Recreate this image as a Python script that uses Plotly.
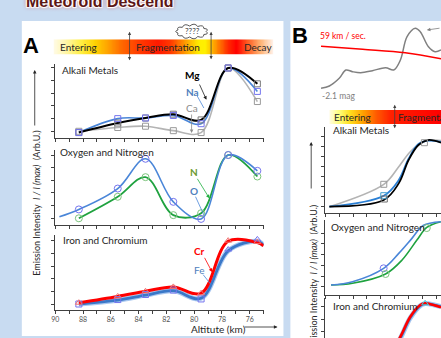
import numpy as np
import plotly.graph_objects as go

W, H = 441, 338
def X(px): return px / W
def Y(py): return 1 - py / H

# ---------------- data (panel A) ----------------
alt_ticks = [90, 88, 86, 84, 82, 80, 78, 76]
alt_A = [88.3, 85.5, 83.5, 81.5, 79.5, 77.55, 75.45]

mg = [-0.02, 0.13, 0.21, 0.27, 0.18, 1.00, 0.75]
na = [-0.02, 0.20, 0.21, 0.25, 0.12, 1.00, 0.63]
ca = [0.00, 0.06, 0.08, 0.01, -0.02, 1.00, 0.47]

o_vals = [0.14, 0.47, 0.94, 0.26, -0.01, 1.00, 0.75]
n_vals = [0.00, 0.34, 0.65, 0.05, 0.08, 1.00, 0.66]
o_line_alt = [89.7] + alt_A
o_line = [0.025] + o_vals

cr = [0.02, 0.12, 0.20, 0.27, 0.17, 1.00, 0.98]
fe = [0.00, 0.07, 0.15, 0.22, 0.08, 0.86, 1.02]
fe_sym = ['square-open'] * 5 + ['triangle-up-open'] * 2
curve_alt = alt_A + [75.0]
cr_curve = [0.02, 0.12, 0.20, 0.27, 0.17, 0.99, 0.97, 0.92]
fe_curve = [0.00, 0.06, 0.14, 0.21, 0.09, 0.84, 0.99, 0.93]

# ---------------- data (panel B) ----------------
mag_alt = [90.31, 89.71, 89.0, 88.52, 88.04, 87.45, 86.61, 85.66, 85.07, 84.59,
           84.11, 83.52, 83.16, 82.57, 82.09, 81.66]
mag = [-2.1, -2.215, -2.6, -3.015, -2.93, -2.88, -2.98, -3.13, -3.015, -3.515,
       -4.68, -5.1, -4.93, -4.18, -3.93, -4.015]
vel_alt = [90.31, 87.31, 84.24, 81.66]
vel = [59.0, 58.0, 56.87, 54.83]

ca_B_alt = [89.71, 85.79, 84.71, 83.88, 82.93, 82.09, 81.66]
ca_B = [0.0, 0.336, 0.6, 0.825, 0.975, 1.0, 0.99]
mg_B_alt = [89.71, 85.79, 84.71, 84.0, 83.29, 82.59, 81.66]
mg_B = [0.0, 0.10, 0.35, 0.70, 0.925, 1.0, 0.96]
na_B = [0.0, 0.165, 0.40, 0.72, 0.94, 0.99, 0.97]

o_B_alt = [89.59, 88.04, 85.8, 84.71, 83.76, 82.95, 81.68]
o_B = [0.0, 0.053, 0.264, 0.5, 0.737, 0.94, 1.0]
n_B_alt = [89.59, 88.04, 85.66, 84.47, 83.4, 82.69, 81.68]
n_B = [0.0, 0.027, 0.174, 0.395, 0.71, 0.91, 1.0]

cr_B_alt = [85.2, 84.59, 83.88, 83.16, 82.81, 82.21, 81.66]
cr_B = [0.25, 0.472, 0.788, 0.973, 1.0, 0.973, 0.937]
fe_B = [0.23, 0.45, 0.77, 0.962, 0.995, 0.978, 0.947]

# gradient bars (colour stops)
barA_stops = [(0.0, '#fffbe6'), (0.054, '#fff6a8'), (0.126, '#ffee40'), (0.19, '#ffd000'),
              (0.248, '#ffa000'), (0.307, '#ff6a00'), (0.383, '#ff3c00'), (0.474, '#ff1a00'),
              (0.532, '#ff3a00'), (0.595, '#ff9a00'), (0.659, '#ffee00'), (0.69, '#fff000'),
              (0.731, '#ffa000'), (0.789, '#ff3000'), (0.83, '#ff0000'), (0.88, '#ff5a20'),
              (0.938, '#ffb070'), (1.0, '#fff4ee')]
barB_stops = [(0.0, '#fffce0'), (0.08, '#ffff80'), (0.18, '#ffe020'), (0.3, '#ffa000'),
              (0.42, '#ff5a00'), (0.55, '#ff2000'), (1.0, '#ff0000')]

BLUE = '#4a86d8'
MBLUE = '#7474ee'
GRAY = '#b4b4b4'
GREEN = '#1fa23f'
RED = '#ff0000'

fig = go.Figure()

def line(x, y, xa, ya, color, width, name):
    fig.add_trace(go.Scatter(x=x, y=y, mode='lines', xaxis=xa, yaxis=ya, name=name,
                             line=dict(color=color, width=width, shape='spline', smoothing=1.0),
                             showlegend=False, hoverinfo='skip'))

def marks(x, y, xa, ya, color, symbol, name, size=6):
    fig.add_trace(go.Scatter(x=x, y=y, mode='markers', xaxis=xa, yaxis=ya, name=name,
                             marker=dict(symbol=symbol, size=size, color=color, line=dict(color=color, width=1)),
                             showlegend=False, hoverinfo='skip'))

# Panel A - Alkali
line(alt_A, ca, 'x', 'y', GRAY, 1.6, 'Ca')
line(alt_A, na, 'x', 'y', BLUE, 1.6, 'Na')
line(alt_A, mg, 'x', 'y', '#000000', 2.0, 'Mg')
marks(alt_A, ca, 'x', 'y', '#9a9a9a', 'square-open', 'Ca')
marks(alt_A, mg, 'x', 'y', '#7a7a7a', 'square-open', 'Mg')
marks(alt_A, na, 'x', 'y', MBLUE, 'square-open', 'Na')

# Panel A - O/N
line(alt_A, n_vals, 'x2', 'y2', GREEN, 1.8, 'N')
line(o_line_alt, o_line, 'x2', 'y2', BLUE, 1.6, 'O')
marks(alt_A, n_vals, 'x2', 'y2', '#7cc47c', 'circle-open', 'N', 7)
marks(alt_A, o_vals, 'x2', 'y2', MBLUE, 'circle-open', 'O', 7)

# Panel A - Fe/Cr
line(curve_alt, fe_curve, 'x3', 'y3', '#aac8f0', 5.0, 'Fe halo')
line(curve_alt, fe_curve, 'x3', 'y3', '#3a78c8', 2.8, 'Fe')
line(curve_alt, cr_curve, 'x3', 'y3', RED, 3.0, 'Cr')
marks(alt_A, fe, 'x3', 'y3', MBLUE, fe_sym, 'Fe')
marks(alt_A, cr, 'x3', 'y3', '#f07070', 'triangle-up-open', 'Cr')

# Panel B - top (magnitude / velocity)
line(mag_alt, mag, 'x7', 'y7', '#808080', 1.5, 'mag')
line(vel_alt, vel, 'x7', 'y8', RED, 1.5, 'velocity')

# Panel B - Alkali
line(ca_B_alt, ca_B, 'x4', 'y4', GRAY, 1.6, 'Ca')
line(mg_B_alt, na_B, 'x4', 'y4', '#2a7fd4', 1.8, 'Na')
line(mg_B_alt, mg_B, 'x4', 'y4', '#000000', 1.8, 'Mg')
marks([85.79, 82.86], [0.336, 0.96], 'x4', 'y4', '#9a9a9a', 'square-open', 'Ca')
marks([85.79], [0.165], 'x4', 'y4', '#40a0d0', 'square-open', 'Na')
marks([85.75], [0.115], 'x4', 'y4', '#707070', 'square-open', 'Mg')

# Panel B - O/N
line(n_B_alt, n_B, 'x5', 'y5', GREEN, 1.6, 'N')
line(o_B_alt, o_B, 'x5', 'y5', BLUE, 1.6, 'O')
marks([85.8], [0.264], 'x5', 'y5', MBLUE, 'circle-open', 'O', 7)
marks([85.66, 82.69], [0.174, 0.9], 'x5', 'y5', '#7cc47c', 'circle-open', 'N', 7)

# Panel B - Fe/Cr
line(cr_B_alt, fe_B, 'x6', 'y6', '#aac8f0', 5.0, 'Fe halo')
line(cr_B_alt, fe_B, 'x6', 'y6', '#3a78c8', 2.6, 'Fe')
line(cr_B_alt, cr_B, 'x6', 'y6', RED, 2.6, 'Cr')
marks([82.81], [1.0], 'x6', 'y6', '#40c8d8', 'triangle-up-open', 'Fe')

# Gradient bars
gA = np.linspace(0, 1, 160)
fig.add_trace(go.Heatmap(x=gA, y=[0], z=[gA], colorscale=[[p, c] for p, c in barA_stops],
                         zmin=0, zmax=1, showscale=False, xaxis='x9', yaxis='y9', hoverinfo='skip', zsmooth='best'))
fig.add_trace(go.Heatmap(x=gA, y=[0], z=[gA], colorscale=[[p, c] for p, c in barB_stops],
                         zmin=0, zmax=1, showscale=False, xaxis='x10', yaxis='y10', hoverinfo='skip', zsmooth='best'))

# ---------------- axes ----------------
AX = '#404040'
def axc(**kw):
    d = dict(showgrid=False, zeroline=False, showline=True, linecolor=AX, linewidth=1,
             ticks='outside', ticklen=3, tickwidth=1, tickcolor=AX, showticklabels=False,
             fixedrange=True)
    d.update(kw)
    return d

xA = [X(51.7), X(262)]
xB = [X(324.3), 1.0]
rB = [90, 90 - (441 - 324.3) / 14]
ticksA = list(range(75, 91))
ticklabA = [str(t) if t in alt_ticks else '' for t in ticksA]
yt = [0, 0.2, 0.4, 0.6, 0.8, 1.0]

layout = dict(
    width=W, height=H, margin=dict(l=0, r=0, t=0, b=0),
    paper_bgcolor='#c8dbf1', plot_bgcolor='rgba(0,0,0,0)', showlegend=False,
    font=dict(family='Lato', color='#262626'),
    xaxis=axc(domain=xA, range=[90, 75], tickmode='array', tickvals=ticksA, anchor='y'),
    yaxis=axc(domain=[Y(138), Y(64)], range=[-0.106, 1.063], tickmode='array', tickvals=yt, anchor='x'),
    xaxis2=axc(domain=xA, range=[90, 75], tickmode='array', tickvals=ticksA, anchor='y2'),
    yaxis2=axc(domain=[Y(225), Y(150)], range=[-0.106, 1.079], tickmode='array', tickvals=yt, anchor='x2'),
    xaxis3=axc(domain=xA, range=[90, 75], tickmode='array', tickvals=ticksA, ticktext=ticklabA,
               showticklabels=True, tickfont=dict(size=7, color='#505050', family='Lato'), anchor='y3'),
    yaxis3=axc(domain=[Y(309.7), Y(235.3)], range=[-0.09, 1.085], tickmode='array', tickvals=yt, anchor='x3'),
    xaxis4=axc(domain=xB, range=rB, tickmode='array', tickvals=list(range(82, 91)), anchor='y4'),
    yaxis4=axc(domain=[Y(212.7), Y(126.7)], range=[-0.09, 1.2], tickmode='array',
               tickvals=[0, 0.15, 0.3, 0.45, 0.6, 0.75, 0.9, 1.05], anchor='x4'),
    xaxis5=axc(domain=xB, range=rB, tickmode='array', tickvals=list(range(82, 91)), anchor='y5'),
    yaxis5=axc(domain=[Y(295), Y(220)], range=[-0.158, 1.027], tickmode='array',
               tickvals=[-0.027, 0.142, 0.311, 0.48, 0.649, 0.818], anchor='x5'),
    xaxis6=axc(domain=xB, range=rB, visible=False, anchor='y6'),
    yaxis6=axc(domain=[0, Y(298.3)], range=[0.452, 1.079], tickmode='array',
               tickvals=[0.55, 0.75, 0.95], anchor='x6'),
    xaxis7=dict(domain=[X(300), 1.0], range=[90 + (324.3 - 300) / 14, rB[1]], visible=False, anchor='y7', fixedrange=True),
    yaxis7=dict(domain=[Y(100), Y(22)], range=[-1.515, -5.415], visible=False, anchor='x7', fixedrange=True),
    yaxis8=dict(domain=[Y(100), Y(22)], range=[41.1, 67.1], visible=False, anchor='x7', overlaying='y7', fixedrange=True),
    xaxis9=dict(domain=[X(50), X(271.7)], range=[0, 1], visible=False, anchor='y9', fixedrange=True),
    yaxis9=dict(domain=[Y(54.7), Y(39.3)], range=[-0.5, 0.5], visible=False, anchor='x9', fixedrange=True),
    xaxis10=dict(domain=[X(328.3), 1.0], range=[0, 1], visible=False, anchor='y10', fixedrange=True),
    yaxis10=dict(domain=[Y(124), Y(110)], range=[-0.5, 0.5], visible=False, anchor='x10', fixedrange=True),
)

# ---------------- shapes ----------------
shapes = [
    dict(type='rect', xref='paper', yref='paper', x0=X(18), x1=X(282), y0=Y(336), y1=Y(21),
         fillcolor='white', line=dict(width=0), layer='below'),
    dict(type='rect', xref='paper', yref='paper', x0=X(289), x1=1.02, y0=-0.02, y1=Y(21),
         fillcolor='white', line=dict(width=0), layer='below'),
]

def seg(x0, y0, x1, y1, color, w=0.8):
    return dict(type='line', xref='paper', yref='paper', x0=X(x0), y0=Y(y0), x1=X(x1), y1=Y(y1),
                line=dict(color=color, width=w))

shapes += [seg(195, 96, 201.7, 108, BLUE), seg(193.3, 196.7, 201.7, 215, BLUE),
           seg(201, 274.7, 209, 284.7, BLUE)]

def cloud_path(cx, cy, rx, ry, n=11, d=4.0):
    ang = [2 * np.pi * k / n for k in range(n)]
    pts = [(cx + rx * np.cos(a), cy + ry * np.sin(a)) for a in ang]
    p = f"M {X(pts[0][0])},{Y(pts[0][1])}"
    for k in range(n):
        am = 2 * np.pi * (k + 0.5) / n
        c = (cx + (rx + d) * np.cos(am), cy + (ry + d) * np.sin(am))
        q = pts[(k + 1) % n]
        p += f" Q {X(c[0])},{Y(c[1])} {X(q[0])},{Y(q[1])}"
    return p + " Z"

shapes.append(dict(type='path', xref='paper', yref='paper', path=cloud_path(189.5, 31.5, 14.5, 5.5),
                   fillcolor='white', line=dict(color='#303030', width=0.8)))

# ---------------- annotations ----------------
ann = []
def txt(x, y, s, size=10, color='#262626', bold=False, xanchor='center', family='Lato', angle=0, **kw):
    if bold:
        s = f"<b>{s}</b>"
    d = dict(x=X(x), y=Y(y), xref='paper', yref='paper', text=s, showarrow=False,
             font=dict(family=family, size=size, color=color), xanchor=xanchor, yanchor='middle',
             textangle=angle)
    d.update(kw)
    ann.append(d)

def arrow(hx, hy, tx, ty, color='#262626', width=0.8, side='end', size=0.9):
    ann.append(dict(x=X(hx), y=Y(hy), xref='paper', yref='paper', ax=tx - hx, ay=ty - hy,
                    axref='pixel', ayref='pixel', text='', showarrow=True, arrowhead=2,
                    arrowsize=size, arrowwidth=width, arrowcolor=color, arrowside=side))

# title
txt(96.5, 1.5, 'Meteoroid Descend', size=16, color='#5c1616', bold=True, family='Liberation Sans',
    font_shadow='1px 1px 1px #fff, -1px -1px 1px #fff, 1px -1px 1px #fff, -1px 1px 1px #fff, 0 0 4px #d04040')

# panel letters
txt(27.5, 45.5, 'A', size=22, color='#000000', bold=True, family='Liberation Sans')
txt(298.5, 36, 'B', size=22, color='#000000', bold=True, family='Liberation Sans')

# bar labels A
txt(54, 47, 'Entering', size=10, xanchor='left')
txt(131, 47, 'Fragmentation', size=10, xanchor='left')
txt(240, 47, 'Decay', size=10, xanchor='left')
arrow(126.7, 60.3, 126.7, 30.3, '#404040', 0.8, 'end+start', 0.8)
arrow(209, 59.3, 209, 30.3, '#404040', 0.8, 'end+start', 0.8)
txt(190, 31, '????', size=8, color='#404040')

# subplot labels A
txt(56.5, 69.5, 'Alkali Metals', size=10, xanchor='left')
txt(54.3, 151.5, 'Oxygen and Nitrogen', size=10, xanchor='left')
txt(57.7, 239.5, 'Iron and Chromium', size=10, xanchor='left')

# species labels A
txt(190.7, 74.7, 'Mg', size=10, color='#000000', bold=True)
arrow(204.3, 99.7, 196.7, 83, '#202020', 0.8)
txt(190, 92.3, 'Na', size=10, color='#4f81bd', bold=True)
txt(189.3, 107.5, 'Ca', size=10, color='#8c8c8c')
arrow(189.3, 133, 189.3, 113, '#8c8c8c', 0.8)
txt(191.7, 172.3, 'N', size=10, color='#6a9a30', bold=True)
arrow(207.3, 198.3, 194.3, 177.3, '#20b040', 0.8)
txt(191.7, 190.7, 'O', size=10, color='#4f81bd', bold=True)
txt(197.7, 251.3, 'Cr', size=10, color='#ff0000', bold=True)
arrow(210, 272, 201.7, 256.3, '#ff0000', 0.8)
txt(197.7, 269.7, 'Fe', size=10, color='#4f81bd')

# axis titles A
ylab = 'Emission Intensity  <i>I / I (max)</i>  (Arb.U.)'
txt(32, 203, ylab, size=9, angle=-90)
arrow(31, 70, 31, 127, '#262626', 0.8)
txt(216, 328.5, 'Altitute (km)', size=10)
arrow(276, 327, 242, 327, '#262626', 0.8)

# panel B texts
txt(317, 36.5, '59 km / sec.', size=8.5, color='#ff0000', xanchor='left')
txt(319, 96.5, '-2.1 mag', size=8.5, color='#808080', xanchor='left')
arrow(426.7, 30, 441, 28, '#808080', 0.8)
arrow(394.3, 128.3, 394.3, 103.3, '#404040', 0.8, 'end+start', 0.8)
txt(331, 117.5, 'Entering', size=10, xanchor='left')
txt(396, 117.5, 'Fragmentation', size=10, xanchor='left')
txt(330, 129.5, 'Alkali Metals', size=10, xanchor='left')
txt(328.3, 226.7, 'Oxygen and Nitrogen', size=10, xanchor='left')
txt(330, 306, 'Iron and Chromium', size=10, xanchor='left')
txt(312, 278, ylab, size=9, angle=-90)
arrow(310, 142, 310, 190, '#262626', 0.8)

layout['shapes'] = shapes
layout['annotations'] = ann
fig.update_layout(**layout)
fig.write_html('out.html')
